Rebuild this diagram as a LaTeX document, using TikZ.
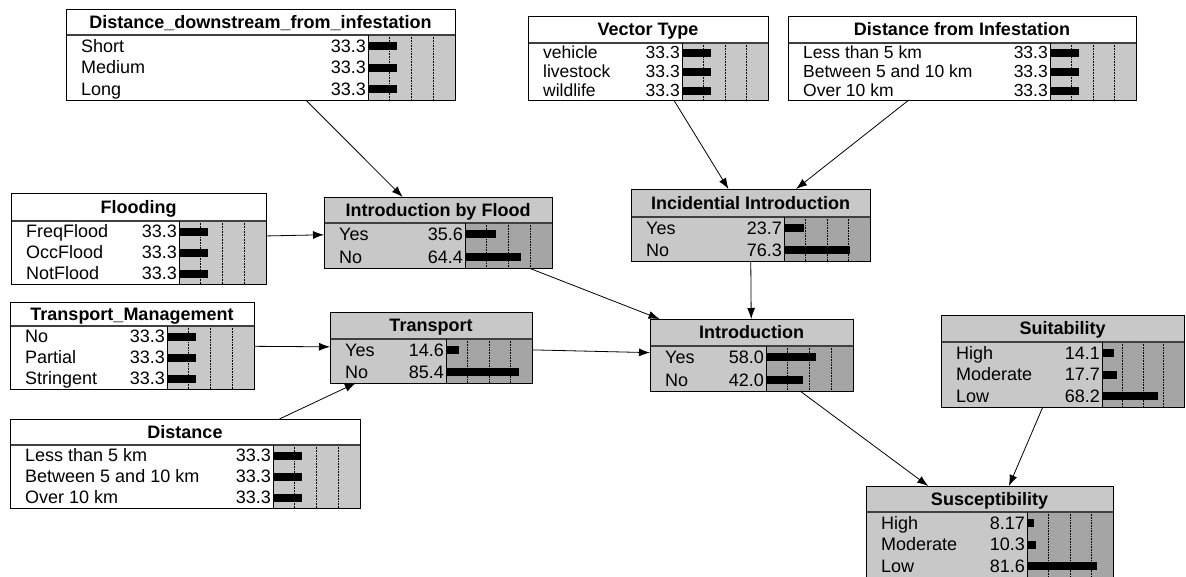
\documentclass[tikz,border=0pt]{standalone}
\usepackage{fontspec}
\setmainfont{Liberation Sans}
\usetikzlibrary{arrows.meta,calc}
\definecolor{leafbar}{HTML}{C8C8C8}
\definecolor{compbg}{HTML}{C8C8C8}
\definecolor{compbar}{HTML}{A5A5A5}
\tikzset{
  bnarrow/.style={draw=black, line width=0.8pt, -{Latex[length=11pt,width=8pt]}},
  boxline/.style={draw=black, line width=1pt},
  divline/.style={draw=black!75, line width=1.5pt},
  gridl/.style={draw=black, line width=0.6pt, densely dotted},
}
\makeatletter
\def\bnparse#1,#2,#3,#4,#5,#6,#7\relax{\def\bnL{#1}\def\bnT{#2}\def\bnR{#3}\def\bnD{#4}\def\bnB{#5}\def\bnS{#6}\def\bnN{#7}}
% #1 name, #2 L,T,R,D,B,barstart,nrows, #3 bg colour, #4 bar-area colour, #5 title, #6 font size, #7 rows label/value
\newcommand\bnbox[7]{%
  \bnparse#2\relax
  \pgfmathsetmacro\bnCx{(\bnL+\bnR)/2}%
  \pgfmathsetmacro\bnCy{(\bnT+\bnB)/2}%
  \pgfmathsetmacro\bnW{\bnR-\bnL}%
  \pgfmathsetmacro\bnH{\bnB-\bnT}%
  \pgfmathsetmacro\bnBW{\bnR-\bnS}%
  \pgfmathsetmacro\bnP{(\bnB-\bnD)/\bnN}%
  \pgfmathsetmacro\bnFS{#6}%
  \fill[#3] (\bnL,\bnT) rectangle (\bnR,\bnB);
  \fill[#4] (\bnS,\bnD) rectangle (\bnR,\bnB);
  \foreach \g in {0.25,0.5,0.75}{\draw[gridl] ({\bnS+\g*\bnBW},\bnD) -- ({\bnS+\g*\bnBW},\bnB);}
  \node[anchor=base, font=\bfseries\fontsize{18}{18}\selectfont, inner sep=0pt] at (\bnCx,{(\bnT+\bnD)/2+0.358*18}) {#5};
  \foreach \lab/\val [count=\i] in {#7}{%
    \pgfmathsetmacro\ry{\bnD+(\i-0.5)*\bnP}%
    \pgfmathsetmacro\bx{\bnS+\val*\bnBW/100}%
    \node[anchor=base west, font=\fontsize{#6}{#6}\selectfont, inner sep=0pt] at ({\bnL+15},{\ry+0.358*\bnFS}) {\lab};
    \node[anchor=base east, font=\fontsize{#6}{#6}\selectfont, inner sep=0pt] at ({\bnS-2},{\ry+0.358*\bnFS}) {\val};
    \fill[black] (\bnS,{\ry-4}) rectangle (\bx,{\ry+4});
  }
  \draw[divline] (\bnL,\bnD) -- (\bnR,\bnD);
  \draw[boxline] (\bnS,\bnD) -- (\bnS,\bnB);
  \node[draw=black, line width=1pt, inner sep=0pt, outer sep=0pt, minimum width=\bnW pt, minimum height=\bnH pt] (#1) at (\bnCx,\bnCy) {};
}
\makeatother
\begin{document}
\begin{tikzpicture}[x=1pt,y=-1pt]
\useasboundingbox (0,0) rectangle (1186,576);
\fill[white] (0,0) rectangle (1186,576);

\bnbox{dd}{66,9,455,35,100,368,3}{white}{leafbar}{Distance\_downstream\_from\_infestation}{18}{Short/33.3,Medium/33.3,Long/33.3}
\bnbox{fl}{11,193,266,221,284,179,3}{white}{leafbar}{Flooding}{18}{FreqFlood/33.3,OccFlood/33.3,NotFlood/33.3}
\bnbox{tm}{10,302,254,326,389,167,3}{white}{leafbar}{Transport\_Management}{18}{No/33.3,Partial/33.3,Stringent/33.3}
\bnbox{di}{10,419,360,445,508,273,3}{white}{leafbar}{Distance}{18}{Less than 5 km/33.3,Between 5 and 10 km/33.3,Over 10 km/33.3}
\bnbox{vt}{528,16,768,43,100,682,3}{white}{leafbar}{Vector Type}{17.5}{vehicle/33.3,livestock/33.3,wildlife/33.3}
\bnbox{df}{788,16,1136,43,100,1050,3}{white}{leafbar}{Distance from Infestation}{17.5}{Less than 5 km/33.3,Between 5 and 10 km/33.3,Over 10 km/33.3}
\bnbox{if}{324,197,552,223,268,465,2}{compbg}{compbar}{Introduction by Flood}{18}{Yes/35.6,No/64.4}
\bnbox{ii}{631,189,870,217,261,784,2}{compbg}{compbar}{Incidential Introduction}{18}{Yes/23.7,No/76.3}
\bnbox{tr}{330,312,532,339,383,446,2}{compbg}{compbar}{Transport}{18}{Yes/14.6,No/85.4}
\bnbox{in}{650,319,853,346,391,766,2}{compbg}{compbar}{Introduction}{18}{Yes/58.0,No/42.0}
\bnbox{su}{941,315,1184,342,407,1102,3}{compbg}{compbar}{Suitability}{18}{High/14.1,Moderate/17.7,Low/68.2}
\bnbox{sc}{866,486,1113,512,577,1027,3}{compbg}{compbar}{Susceptibility}{18}{High/8.17,Moderate/10.3,Low/81.6}

\draw[bnarrow] (dd) -- (if);
\draw[bnarrow] (fl) -- (if);
\draw[bnarrow] (vt) -- (ii);
\draw[bnarrow] (df) -- (ii);
\draw[bnarrow] (if) -- (in);
\draw[bnarrow] (ii) -- (in);
\draw[bnarrow] (tr) -- (in);
\draw[bnarrow] (tm) -- (tr);
\draw[bnarrow] (di) -- (tr);
\draw[bnarrow] (in) -- (sc);
\draw[bnarrow] (su) -- (sc);
\end{tikzpicture}
\end{document}
